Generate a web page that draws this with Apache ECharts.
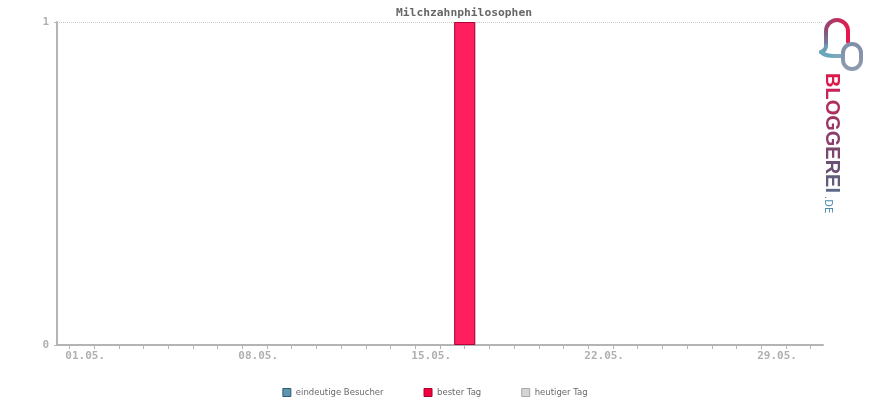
<!DOCTYPE html>
<html>
<head>
<meta charset="utf-8">
<script src="https://cdn.jsdelivr.net/npm/echarts@6/dist/echarts.min.js"></script>
<style>html,body{margin:0;padding:0;background:#fff}#c{width:870px;height:400px}</style>
</head>
<body>
<div id="c"></div>
<script>
const titleText = 'Milchzahnphilosophen';
const days = ['01.05.','02.05.','03.05.','04.05.','05.05.','06.05.','07.05.','08.05.','09.05.','10.05.','11.05.','12.05.','13.05.','14.05.','15.05.','16.05.','17.05.','18.05.','19.05.','20.05.','21.05.','22.05.','23.05.','24.05.','25.05.','26.05.','27.05.','28.05.','29.05.','30.05.','31.05.'];
const visitors = [0,0,0,0,0,0,0,0,0,0,0,0,0,0,0,0,1,0,0,0,0,0,0,0,0,0,0,0,0,0,0];
const bestDay = [null,null,null,null,null,null,null,null,null,null,null,null,null,null,null,null,1,null,null,null,null,null,null,null,null,null,null,null,null,null,null];
const today = [null,null,null,null,null,null,null,null,null,null,null,null,null,null,null,null,null,null,null,null,null,null,null,null,null,null,null,null,null,null,null];
const seriesNames = ['eindeutige Besucher','bester Tag','heutiger Tag'];
const yMin = 0, yMax = 1, yInterval = 1;

const chart = echarts.init(document.getElementById('c'), null, {renderer:'canvas'});
const mono = 'DejaVu Sans Mono';
const LG = echarts.graphic.LinearGradient;
const logoWord = 'BLOGGEREI';
const logoColors = ['#dc1a4c','#c7245a','#b02d60','#9c3566','#8a3d6a','#7a476f','#6b5074','#625c7c','#5a6a86'];
const rich = {};
logoWord.split('').forEach((ch, i) => { rich['c' + i] = {fill: logoColors[i], color: logoColors[i], fontFamily: 'Liberation Sans', fontWeight: 'bold', fontSize: 20}; });
const logoText = logoWord.split('').map((ch, i) => '{c' + i + '|' + ch + '}').join('');

chart.setOption({
  animation: false,
  title: {
    text: titleText, left: 391, top: 3,
    textStyle: {fontFamily: mono, fontWeight: 'bold', fontSize: 11.3, color: '#666'}
  },
  legend: {
    data: [
      {name: seriesNames[0], itemStyle: {color: '#5f95ad', borderColor: '#2d5c72', borderWidth: 1}},
      {name: seriesNames[1], itemStyle: {color: '#f0003c', borderColor: '#a8002e', borderWidth: 1}},
      {name: seriesNames[2], itemStyle: {color: '#d4d4d4', borderColor: '#a8a8a8', borderWidth: 1}}
    ],
    left: 'center', top: 383,
    itemWidth: 8, itemHeight: 8, itemGap: 40, icon: 'rect',
    textStyle: {fontFamily: 'DejaVu Sans', fontSize: 8.5, color: '#6a6a6a'}
  },
  grid: {left: 57, right: 47, top: 22, bottom: 55, containLabel: false},
  xAxis: {
    type: 'category', data: days, boundaryGap: true,
    axisLine: {lineStyle: {color: '#b4b4b4', width: 2}},
    axisTick: {show: true, alignWithLabel: true, interval: 0, length: 4, lineStyle: {color: '#b4b4b4', width: 1}},
    axisLabel: {interval: 6, align: 'left', padding: [0,0,0,-4], margin: 6, color: '#b0b0b0',
      fontFamily: mono, fontWeight: 'bold', fontSize: 11},
    splitLine: {show: false}
  },
  yAxis: {
    type: 'value', min: yMin, max: yMax, interval: yInterval,
    axisLine: {show: true, lineStyle: {color: '#b4b4b4', width: 2}},
    axisTick: {show: true, length: 3, lineStyle: {color: '#b4b4b4'}},
    axisLabel: {color: '#b0b0b0', fontFamily: mono, fontWeight: 'bold', fontSize: 11, margin: 8},
    splitLine: {show: true, lineStyle: {color: '#c8c8c8', type: 'dotted', width: 1}}
  },
  series: [
    {name: seriesNames[0], type: 'bar', data: visitors, barWidth: 21, barGap: '-100%',
      itemStyle: {color: '#5f95ad', borderWidth: 0}},
    {name: seriesNames[1], type: 'bar', data: bestDay, barWidth: 21, barGap: '-100%',
      itemStyle: {color: '#ff1f5e', borderColor: '#b5003a', borderWidth: 1}},
    {name: seriesNames[2], type: 'bar', data: today, barWidth: 21, barGap: '-100%',
      itemStyle: {color: '#d4d4d4', borderColor: '#a8a8a8', borderWidth: 1}}
  ],
  graphic: [
    {type: 'arc', silent: true, shape: {cx: 837, cy: 31, r: 11, startAngle: Math.PI, endAngle: 2 * Math.PI, clockwise: true},
      style: {fill: null, lineWidth: 4, stroke: new LG(0, 0, 1, 0, [{offset: 0, color: '#8a4c74'}, {offset: 1, color: '#ec174b'}])}},
    {type: 'line', silent: true, shape: {x1: 848, y1: 31, x2: 848, y2: 42},
      style: {lineWidth: 4, stroke: '#e41a4c', lineCap: 'round'}},
    {type: 'line', silent: true, shape: {x1: 826, y1: 31, x2: 826, y2: 46},
      style: {lineWidth: 4, stroke: new LG(0, 0, 0, 1, [{offset: 0, color: '#8a4c74'}, {offset: 1, color: '#6c8fae'}])}},
    {type: 'bezierCurve', silent: true, shape: {x1: 826, y1: 46, cpx1: 826, cpy1: 50, x2: 821, y2: 52},
      style: {fill: null, lineWidth: 4, stroke: '#6c9cb6', lineCap: 'round'}},
    {type: 'bezierCurve', silent: true, shape: {x1: 821, y1: 52, cpx1: 825, cpy1: 56, x2: 834, y2: 56},
      style: {fill: null, lineWidth: 4, stroke: '#6aa6bd', lineCap: 'round'}},
    {type: 'line', silent: true, shape: {x1: 834, y1: 56, x2: 842, y2: 56},
      style: {lineWidth: 4, stroke: '#7ea8bd', lineCap: 'round'}},
    {type: 'rect', silent: true,
      shape: {x: 843, y: 44, width: 18, height: 25, r: 9},
      style: {fill: null, lineWidth: 4, stroke: new LG(0, 0, 0, 1, [{offset: 0, color: '#7e8ea6'}, {offset: 1, color: '#8f9bb0'}])}},
    {type: 'text', silent: true, x: 822, y: 73, rotation: -Math.PI / 2,
      style: {text: logoText, rich: rich, fontFamily: 'Liberation Sans', fontWeight: 'bold', fontSize: 20,
        textAlign: 'left', textVerticalAlign: 'bottom', fill: '#9a3a68'}},
    {type: 'text', silent: true, x: 823, y: 196, rotation: -Math.PI / 2,
      style: {text: '.DE', fontFamily: 'DejaVu Sans', fontSize: 10, textAlign: 'left', textVerticalAlign: 'bottom', fill: '#4a8bb3'}}
  ]
});
</script>
</body>
</html>
